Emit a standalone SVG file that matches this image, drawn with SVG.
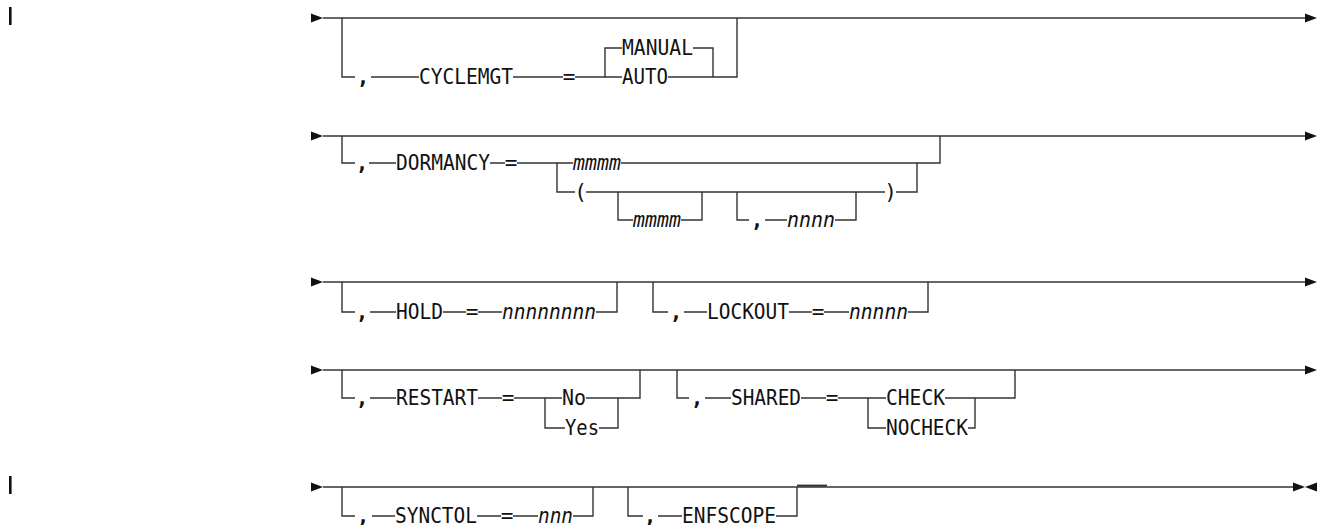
<svg xmlns="http://www.w3.org/2000/svg" width="1318" height="525" viewBox="0 0 1318 525">
<style>
.t{font-family:"DejaVu Sans Mono","Liberation Mono",monospace;font-size:21px;fill:#111}
.i{font-style:italic}
.c{font-weight:bold;text-anchor:middle}
.m{text-anchor:middle}
.l{stroke:#333;stroke-width:1.4;fill:none}
.a{fill:#111}
</style>
<defs>
<path id="ar" d="M0,-4.5 L12,0 L0,4.5 Z"/>
<path id="al" d="M12,-4.5 L0,0 L12,4.5 Z"/>
</defs>
<rect x="9" y="7" width="2.6" height="18" fill="#111"/>
<rect x="9" y="476" width="2.6" height="18" fill="#111"/>
<g id="connectors" class="l">
<!-- row 1 -->
<path d="M323,18 H1305"/>
<path d="M342,18 V77 H355 M371,77 H419 M513,77 H563 M575,77 H622 M668,77 H737 V18"/>
<path d="M605,77 V48 H622 M693,48 H713 V77"/>
<!-- row 2 -->
<path d="M323,136 H1305"/>
<path d="M342,136 V163 H355 M369,163 H396 M490,163 H505 M517,163 H573 M621,163 H940 V136"/>
<path d="M557,163 V192 H575 M586,192 H885 M896,192 H917 V163"/>
<path d="M618,192 V220 H633 M681,220 H702 V192"/>
<path d="M737,192 V220 H749 M765,220 H787 M835,220 H856 V192"/>
<!-- row 3 -->
<path d="M323,282 H1305"/>
<path d="M342,282 V312 H355 M370,312 H396 M443,312 H466 M478,312 H502 M596,312 H617 V282"/>
<path d="M653,282 V312 H668 M684,312 H707 M789,312 H812 M824,312 H849 M908,312 H928 V282"/>
<!-- row 4 -->
<path d="M323,370 H1305"/>
<path d="M342,370 V398 H355 M370,398 H396 M478,398 H502 M514,398 H562 M586,398 H640 V370"/>
<path d="M545,398 V428 H565 M599,428 H618 V398"/>
<path d="M677,370 V398 H689 M705,398 H731 M801,398 H826 M838,398 H886 M945,398 H1015 V370"/>
<path d="M868,398 V428 H886 M968,428 H975 V398"/>
<!-- row 5 -->
<path d="M323,487 H1293"/>
<path d="M342,487 V516 H355 M372,516 H395 M477,516 H501 M513,516 H538 M573,516 H593 V487"/>
<path d="M628,487 V516 H643 M658,516 H682 M776,516 H797 V487"/>
<path d="M797,485.6 H827" stroke-width="2"/>
</g>
<g id="arrows" class="a">
<use href="#ar" x="311" y="18"/><use href="#ar" x="1305" y="18"/>
<use href="#ar" x="311" y="136"/><use href="#ar" x="1305" y="136"/>
<use href="#ar" x="311" y="282"/><use href="#ar" x="1305" y="282"/>
<use href="#ar" x="311" y="370"/><use href="#ar" x="1305" y="370"/>
<use href="#ar" x="311" y="487"/><use href="#ar" x="1293" y="487"/><use href="#al" x="1305" y="487"/>
</g>
<g id="cyclemgt" class="t">
<text class="c" x="363" y="84">,</text>
<text x="419" y="84" textLength="94" lengthAdjust="spacingAndGlyphs">CYCLEMGT</text>
<text class="m" x="569" y="84">=</text>
<text x="622" y="55" textLength="71" lengthAdjust="spacingAndGlyphs">MANUAL</text>
<text x="622" y="84" textLength="46" lengthAdjust="spacingAndGlyphs">AUTO</text>
</g>
<g id="dormancy" class="t">
<text class="c" x="362" y="170">,</text>
<text x="396" y="170" textLength="94" lengthAdjust="spacingAndGlyphs">DORMANCY</text>
<text class="m" x="511" y="170">=</text>
<text class="i" x="573" y="170" textLength="48" lengthAdjust="spacingAndGlyphs">mmmm</text>
<text class="m" x="580.5" y="199">(</text>
<text class="i" x="633" y="227" textLength="48" lengthAdjust="spacingAndGlyphs">mmmm</text>
<text class="c" x="757" y="227">,</text>
<text class="i" x="787" y="227" textLength="48" lengthAdjust="spacingAndGlyphs">nnnn</text>
<text class="m" x="890.5" y="199">)</text>
</g>
<g id="hold" class="t">
<text class="c" x="362" y="319">,</text>
<text x="396" y="319" textLength="47" lengthAdjust="spacingAndGlyphs">HOLD</text>
<text class="m" x="472" y="319">=</text>
<text class="i" x="502" y="319" textLength="94" lengthAdjust="spacingAndGlyphs">nnnnnnnn</text>
</g>
<g id="lockout" class="t">
<text class="c" x="676" y="319">,</text>
<text x="707" y="319" textLength="82" lengthAdjust="spacingAndGlyphs">LOCKOUT</text>
<text class="m" x="818" y="319">=</text>
<text class="i" x="849" y="319" textLength="59" lengthAdjust="spacingAndGlyphs">nnnnn</text>
</g>
<g id="restart" class="t">
<text class="c" x="362" y="405">,</text>
<text x="396" y="405" textLength="82" lengthAdjust="spacingAndGlyphs">RESTART</text>
<text class="m" x="508" y="405">=</text>
<text x="562" y="405" textLength="24" lengthAdjust="spacingAndGlyphs">No</text>
<text x="565" y="435" textLength="34" lengthAdjust="spacingAndGlyphs">Yes</text>
</g>
<g id="shared" class="t">
<text class="c" x="697" y="405">,</text>
<text x="731" y="405" textLength="70" lengthAdjust="spacingAndGlyphs">SHARED</text>
<text class="m" x="832" y="405">=</text>
<text x="886" y="405" textLength="59" lengthAdjust="spacingAndGlyphs">CHECK</text>
<text x="886" y="435" textLength="82" lengthAdjust="spacingAndGlyphs">NOCHECK</text>
</g>
<g id="synctol" class="t">
<text class="c" x="363" y="523">,</text>
<text x="395" y="523" textLength="82" lengthAdjust="spacingAndGlyphs">SYNCTOL</text>
<text class="m" x="507" y="523">=</text>
<text class="i" x="538" y="523" textLength="35" lengthAdjust="spacingAndGlyphs">nnn</text>
</g>
<g id="enfscope" class="t">
<text class="c" x="650" y="523">,</text>
<text x="682" y="523" textLength="94" lengthAdjust="spacingAndGlyphs">ENFSCOPE</text>
</g>
</svg>
